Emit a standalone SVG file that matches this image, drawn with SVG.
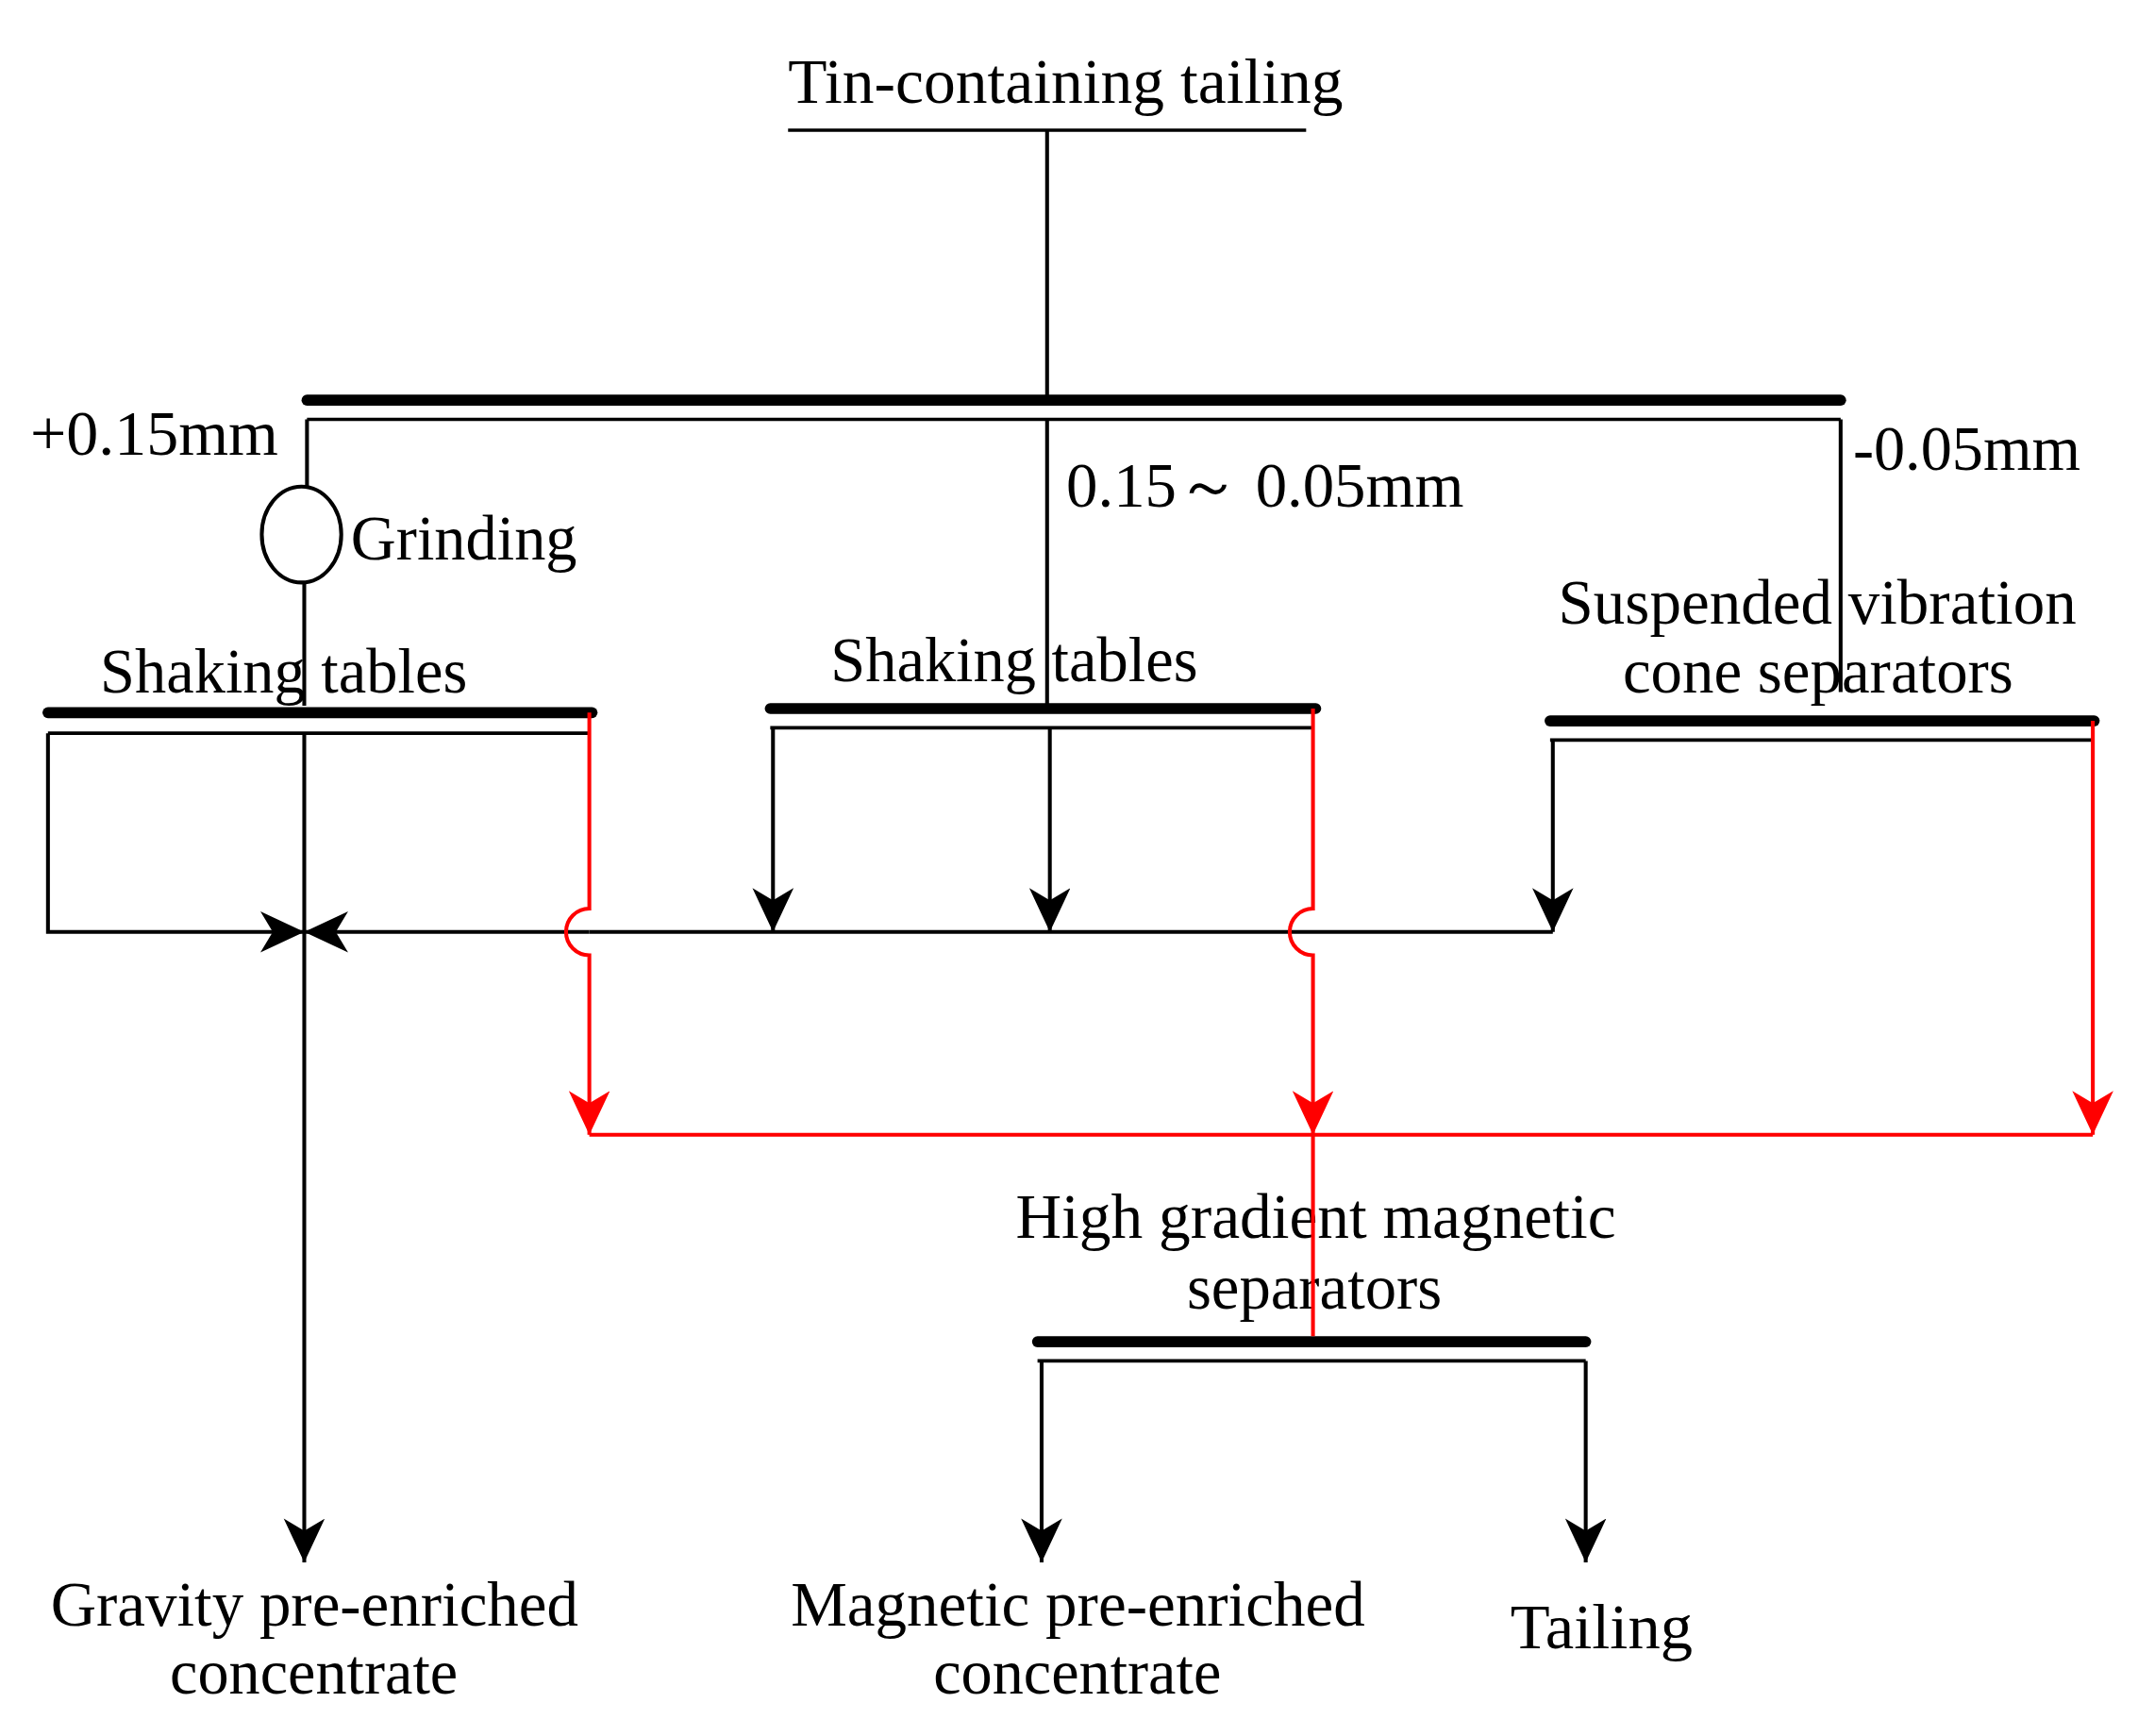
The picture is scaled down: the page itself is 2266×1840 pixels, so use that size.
<svg xmlns="http://www.w3.org/2000/svg" width="2266" height="1840" viewBox="0 0 2266 1840">
<style>
text{font-family:"Liberation Serif","Times New Roman",serif;font-size:46px;fill:#000}
.k{stroke:#000;stroke-width:2.8;fill:none}
.r{stroke:#f00;stroke-width:2.8;fill:none}
.bar{stroke:#000;stroke-width:8;stroke-linecap:round}
.thin{stroke:#000;stroke-width:2.5}
</style>
<defs>
<marker id="ab" markerUnits="userSpaceOnUse" markerWidth="40" markerHeight="40" refX="32" refY="15" orient="auto"><path d="M0,0 L32,15 L0,30 L9,15 Z" fill="#000"/></marker>
<marker id="ar" markerUnits="userSpaceOnUse" markerWidth="40" markerHeight="40" refX="32" refY="15" orient="auto"><path d="M0,0 L32,15 L0,30 L9,15 Z" fill="#f00"/></marker>
</defs>
<rect width="2266" height="1840" fill="#fff"/>
<g transform="scale(1.4526)">
<g id="feed"><text x="575" y="75" textLength="405" lengthAdjust="spacingAndGlyphs">Tin-containing tailing</text><line class="thin" x1="575" y1="95" x2="953" y2="95"/></g>
<g id="screen"><line class="bar" x1="224" y1="292" x2="1343" y2="292"/><line class="thin" x1="224" y1="306" x2="1343" y2="306"/>
<text x="22" y="332" textLength="181" lengthAdjust="spacingAndGlyphs">+0.15mm</text>
<text x="778" y="370" textLength="290" lengthAdjust="spacingAndGlyphs">0.15～ 0.05mm</text>
<text x="1352" y="343" textLength="166" lengthAdjust="spacingAndGlyphs">-0.05mm</text></g>
<g id="grinding"><ellipse cx="220" cy="390" rx="29" ry="35" class="k"/><text x="256" y="408" textLength="165" lengthAdjust="spacingAndGlyphs">Grinding</text></g>
<g id="table1"><text x="73" y="505" textLength="268" lengthAdjust="spacingAndGlyphs">Shaking tables</text><line class="bar" x1="35" y1="520" x2="432" y2="520"/><line class="thin" x1="35" y1="535" x2="430" y2="535"/></g>
<g id="table2"><text x="606" y="497" textLength="268" lengthAdjust="spacingAndGlyphs">Shaking tables</text><line class="bar" x1="562" y1="517" x2="960" y2="517"/><line class="thin" x1="562" y1="531" x2="958" y2="531"/></g>
<g id="cone"><text x="1137" y="455" textLength="378" lengthAdjust="spacingAndGlyphs">Suspended vibration</text><text x="1184" y="505" textLength="285" lengthAdjust="spacingAndGlyphs">cone separators</text><line class="bar" x1="1131" y1="526" x2="1528" y2="526"/><line class="thin" x1="1131" y1="540" x2="1527" y2="540"/></g>
<g id="hgms"><text x="741" y="903" textLength="438" lengthAdjust="spacingAndGlyphs">High gradient magnetic</text><text x="866" y="955" textLength="186" lengthAdjust="spacingAndGlyphs">separators</text><line class="bar" x1="757" y1="979" x2="1157" y2="979"/><line class="thin" x1="757" y1="993" x2="1157" y2="993"/></g>
<g id="gravity"><text x="37" y="1186" textLength="385" lengthAdjust="spacingAndGlyphs">Gravity pre-enriched</text><text x="124" y="1236" textLength="210" lengthAdjust="spacingAndGlyphs">concentrate</text></g>
<g id="magnetic"><text x="577" y="1186" textLength="419" lengthAdjust="spacingAndGlyphs">Magnetic pre-enriched</text><text x="681" y="1236" textLength="210" lengthAdjust="spacingAndGlyphs">concentrate</text></g>
<g id="tailing"><text x="1102" y="1203" textLength="133" lengthAdjust="spacingAndGlyphs">Tailing</text></g>
<g id="connectors">
<path class="k" d="M764,95 V292"/>
<path class="k" d="M224,306 V355 M222,425 V515"/>
<path class="k" d="M764,306 V517"/>
<path class="k" d="M1343,306 V505"/>
<path class="k" d="M35,535 V680 H222" marker-end="url(#ab)"/>
<path class="k" d="M430,680 H222" marker-end="url(#ab)"/>
<path class="k" d="M222,535 V1140" marker-end="url(#ab)"/>
<path class="k" d="M430,680 H1133"/>
<path class="k" d="M564,531 V680" marker-end="url(#ab)"/>
<path class="k" d="M766,531 V680" marker-end="url(#ab)"/>
<path class="k" d="M1133,540 V680" marker-end="url(#ab)"/>
<path class="k" d="M760,993 V1140" marker-end="url(#ab)"/>
<path class="k" d="M1157,993 V1140" marker-end="url(#ab)"/>
<path class="r" d="M430,520 V663 A17,17 0 0 0 430,697 V828" marker-end="url(#ar)"/>
<path class="r" d="M958,517 V663 A17,17 0 0 0 958,697 V828" marker-end="url(#ar)"/>
<path class="r" d="M958,828 V975"/>
<path class="r" d="M1527,526 V828" marker-end="url(#ar)"/>
<path class="r" d="M430,828 H1527"/>
</g>
</g>
</svg>
